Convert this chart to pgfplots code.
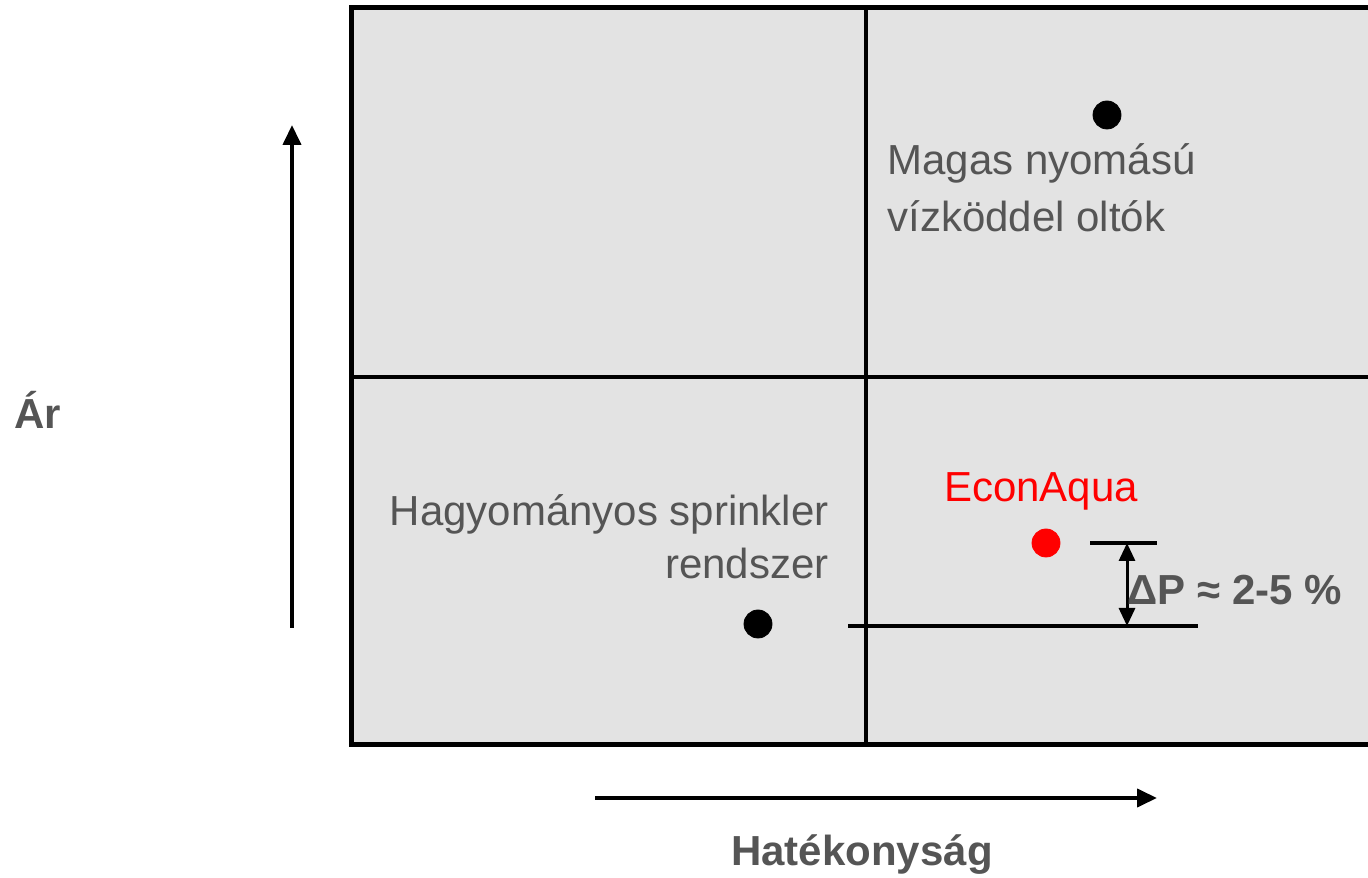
\documentclass[border=0pt]{standalone}
\usepackage{pgfplots}
\pgfplotsset{compat=1.18}
\usepackage{fontspec}
\setmainfont{Liberation Sans}
\usetikzlibrary{arrows.meta}
\definecolor{bg}{HTML}{E3E3E3}
\definecolor{txt}{HTML}{555555}
\newcommand{\fs}{\fontsize{21}{25}\selectfont}
\begin{document}
\begin{tikzpicture}
\begin{axis}[
  scale only axis, width=684pt, height=438.5pt,
  xmin=0, xmax=1368, ymin=0, ymax=877,
  hide axis, clip=true,
]
% box
\addplot[draw=black, line width=2.5pt, line join=miter, fill=bg] coordinates {(1420,132) (351,132) (351,869) (1420,869)} -- cycle;
% dividers
\addplot[black, line width=2pt] coordinates {(866,132) (866,869)};
\addplot[black, line width=2pt] coordinates {(351,500) (1420,500)};
% reference lines
\addplot[black, line width=2pt] coordinates {(848,251) (1198,251)};
\addplot[black, line width=2pt] coordinates {(1090,334) (1157,334)};
\addplot[black, line width=1.5pt, {Triangle[length=9pt,width=8pt]}-{Triangle[length=9pt,width=8pt]}] coordinates {(1127,334) (1127,251)};
% axis arrows
\addplot[black, line width=2pt, -{Triangle[length=10pt,width=9pt]}] coordinates {(292,249) (292,752)};
\addplot[black, line width=2pt, -{Triangle[length=10pt,width=9pt]}] coordinates {(595,79) (1157,79)};
% points
\addplot[only marks, mark=*, mark size=7pt, black] coordinates {(1107,762) (758,253)};
\addplot[only marks, mark=*, mark size=7pt, red, mark options={draw=red, fill=red}] coordinates {(1046,334)};
% texts
\node[inner sep=0pt, anchor=west, text=txt, font=\fs] at (axis cs:887,714) {Magas nyomású};
\node[inner sep=0pt, anchor=west, text=txt, font=\fs] at (axis cs:887,661) {vízköddel oltók};
\node[inner sep=0pt, anchor=east, text=txt, font=\fs] at (axis cs:829,363) {Hagyományos sprinkler};
\node[inner sep=0pt, anchor=east, text=txt, font=\fs] at (axis cs:829,314) {rendszer};
\node[inner sep=0pt, text=red, font=\fs] at (axis cs:1041,386) {EconAqua};
\node[inner sep=0pt, anchor=west, text=txt, font=\fs\bfseries] at (axis cs:1127,287) {ΔP ≈ 2-5 \%};
\node[inner sep=0pt, text=txt, font=\fs\bfseries] at (axis cs:38,467) {Ár};
\node[inner sep=0pt, text=txt, font=\fs\bfseries] at (axis cs:862,22) {Hatékonyság};
\end{axis}
\pgfresetboundingbox
\path[use as bounding box] (0,0) rectangle (684pt,438.5pt);
\end{tikzpicture}
\end{document}
